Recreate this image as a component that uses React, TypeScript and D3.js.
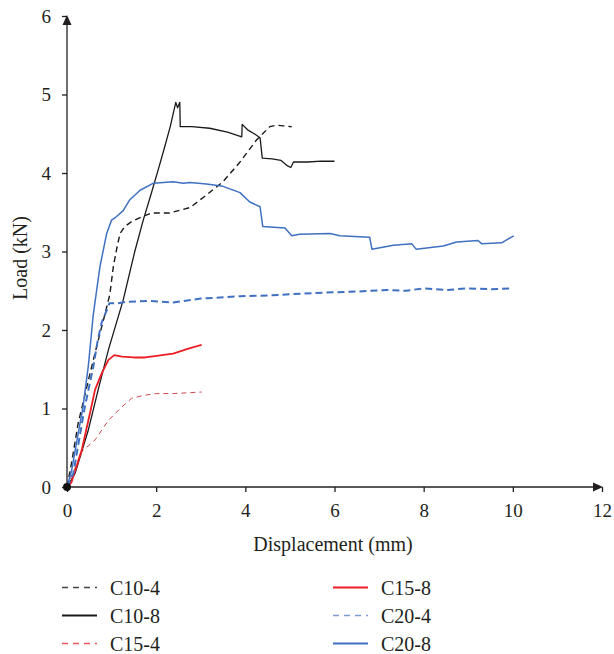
import React, { useEffect, useRef } from "react";
import * as d3 from "d3";

const xTicks = [0, 2, 4, 6, 8, 10, 12];
const yTicks = [0, 1, 2, 3, 4, 5, 6];

// C10-4 (black dashed)
const c10_4x = [0, 0.1, 0.25, 0.48, 0.67, 0.85, 0.96, 1.04, 1.12, 1.19, 1.3, 1.45, 1.71, 1.9, 2.3, 2.76, 3.13, 3.5, 3.88, 4.25, 4.55, 4.7, 4.85, 5.04];
const c10_4y = [0, 0.3, 0.81, 1.36, 1.8, 2.2, 2.45, 2.81, 3.05, 3.23, 3.32, 3.38, 3.45, 3.49, 3.49, 3.56, 3.72, 3.89, 4.14, 4.42, 4.59, 4.61, 4.6, 4.59];

// C10-8 (black solid)
const c10_8x = [0, 0.18, 0.48, 0.7, 0.93, 1.26, 1.52, 1.71, 1.88, 2.05, 2.2, 2.32, 2.44, 2.48, 2.53, 2.54, 2.8, 3.2, 3.6, 3.92, 3.93, 4.05, 4.2, 4.33, 4.38, 4.6, 4.8, 4.95, 5.02, 5.08, 5.4, 5.7, 6.0];
const c10_8y = [0, 0.17, 0.73, 1.24, 1.75, 2.38, 3.0, 3.4, 3.72, 4.05, 4.35, 4.6, 4.9, 4.83, 4.9, 4.59, 4.59, 4.57, 4.52, 4.46, 4.62, 4.55, 4.5, 4.45, 4.19, 4.18, 4.16, 4.09, 4.07, 4.14, 4.14, 4.15, 4.15];

// C15-4 (red dashed)
const c15_4x = [0, 0.15, 0.33, 0.63, 0.93, 1.23, 1.45, 1.75, 2.0, 2.38, 2.7, 3.02];
const c15_4y = [0, 0.2, 0.45, 0.6, 0.85, 1.02, 1.13, 1.17, 1.19, 1.19, 1.2, 1.21];

// C15-8 (red solid)
const c15_8x = [0, 0.1, 0.33, 0.48, 0.63, 0.78, 0.93, 1.06, 1.23, 1.5, 1.75, 2.01, 2.38, 2.76, 3.02];
const c15_8y = [0, 0.06, 0.47, 0.85, 1.24, 1.45, 1.62, 1.68, 1.66, 1.65, 1.65, 1.67, 1.7, 1.77, 1.81];

// C20-4 (blue dashed)
const c20_4x = [0, 0.14, 0.4, 0.59, 0.69, 0.78, 0.89, 0.95, 1.15, 1.34, 1.86, 2.38, 3.0, 3.88, 4.5, 5.5, 6.5, 7.2, 7.6, 8.0, 8.5, 9.0, 9.5, 10.0];
const c20_4y = [0, 0.17, 1.02, 1.53, 1.87, 2.1, 2.25, 2.34, 2.34, 2.36, 2.37, 2.35, 2.4, 2.43, 2.44, 2.47, 2.49, 2.51, 2.5, 2.53, 2.51, 2.53, 2.52, 2.53];

// C20-8 (blue solid)
const c20_8x = [0, 0.1, 0.25, 0.36, 0.48, 0.59, 0.74, 0.89, 1.0, 1.08, 1.26, 1.41, 1.64, 1.94, 2.38, 2.61, 2.76, 3.13, 3.5, 3.88, 4.1, 4.33, 4.39, 4.89, 5.04, 5.22, 5.9, 6.12, 6.79, 6.84, 7.32, 7.73, 7.83, 8.44, 8.74, 9.22, 9.3, 9.75, 10.02];
const c20_8y = [0, 0.2, 0.68, 1.02, 1.55, 2.2, 2.81, 3.23, 3.4, 3.43, 3.52, 3.66, 3.78, 3.87, 3.89, 3.87, 3.88, 3.86, 3.83, 3.75, 3.63, 3.57, 3.32, 3.3, 3.2, 3.22, 3.23, 3.2, 3.18, 3.03, 3.08, 3.1, 3.03, 3.07, 3.12, 3.14, 3.1, 3.11, 3.2];

const seriesNames = ["C10-4", "C10-8", "C15-4", "C15-8", "C20-4", "C20-8"];
const seriesX = [c10_4x, c10_8x, c15_4x, c15_8x, c20_4x, c20_8x];
const seriesY = [c10_4y, c10_8y, c15_4y, c15_8y, c20_4y, c20_8y];

const styles: Record<string, { color: string; width: number; dash: string | null; legColor: string }> = {
  "C10-4": { color: "#1a1a1a", width: 1.4, dash: "6,4", legColor: "#444" },
  "C10-8": { color: "#1a1a1a", width: 1.3, dash: null, legColor: "#1a1a1a" },
  "C15-4": { color: "#cf4a4e", width: 1, dash: "5,4", legColor: "#f0585c" },
  "C15-8": { color: "#ee1c24", width: 1.8, dash: null, legColor: "#ee1c24" },
  "C20-4": { color: "#3f70c1", width: 2, dash: "7,4", legColor: "#7b9bd6" },
  "C20-8": { color: "#3f70c1", width: 1.5, dash: null, legColor: "#3f70c1" },
};

const FONT = "Liberation Serif, Times New Roman, Times, serif";
const INK = "#231f20";

export default function App() {
  const ref = useRef<SVGSVGElement | null>(null);

  useEffect(() => {
    const svg = d3.select(ref.current);
    svg.selectAll("*").remove();
    svg.attr("font-family", FONT);

    const x = d3.scaleLinear().domain([0, 12]).range([67, 602]);
    const y = d3.scaleLinear().domain([0, 6]).range([487, 16]);

    // axes
    const xAxis = svg.append("g")
      .attr("transform", `translate(0,${y(0)})`)
      .call(d3.axisBottom(x).tickValues(xTicks).tickSize(5).tickPadding(12).tickFormat(d3.format("d")));
    const yAxis = svg.append("g")
      .attr("transform", `translate(${x(0)},0)`)
      .call(d3.axisLeft(y).tickValues(yTicks).tickSize(5).tickPadding(11).tickFormat(d3.format("d")));

    [xAxis, yAxis].forEach(g => {
      g.attr("font-family", FONT).attr("font-size", 19);
      g.select(".domain").remove();
      g.selectAll("line").attr("stroke", INK).attr("stroke-width", 1.3);
      g.selectAll("text").attr("fill", INK);
    });

    // axis lines with arrows
    svg.append("line")
      .attr("x1", x(0)).attr("x2", x(12) - 6)
      .attr("y1", y(0)).attr("y2", y(0))
      .attr("stroke", INK).attr("stroke-width", 1.3);
    svg.append("line")
      .attr("x1", x(0)).attr("x2", x(0))
      .attr("y1", y(0)).attr("y2", y(6) + 6)
      .attr("stroke", INK).attr("stroke-width", 1.3);
    svg.append("path")
      .attr("d", `M${x(12) + 1},${y(0)} L${x(12) - 9},${y(0) - 4.5} L${x(12) - 9},${y(0) + 4.5} Z`)
      .attr("fill", INK);
    svg.append("path")
      .attr("d", `M${x(0)},${y(6) - 1} L${x(0) - 4.5},${y(6) + 9} L${x(0) + 4.5},${y(6) + 9} Z`)
      .attr("fill", INK);

    // axis titles
    svg.append("text")
      .attr("x", 333).attr("y", 551)
      .attr("text-anchor", "middle")
      .attr("fill", INK)
      .attr("font-size", 20)
      .text("Displacement (mm)");
    svg.append("text")
      .attr("transform", "translate(27,258) rotate(-90)")
      .attr("text-anchor", "middle")
      .attr("fill", INK)
      .attr("font-size", 20)
      .text("Load (kN)");

    // curves
    const line = d3.line<[number, number]>()
      .x(d => x(d[0]))
      .y(d => y(d[1]))
      .curve(d3.curveLinear);

    seriesNames.forEach((name, i) => {
      const pts = seriesX[i].map((v, j) => [v, seriesY[i][j]] as [number, number]);
      const s = styles[name];
      svg.append("path")
        .datum(pts)
        .attr("d", line)
        .attr("fill", "none")
        .attr("stroke", s.color)
        .attr("stroke-width", s.width)
        .attr("stroke-linejoin", "round")
        .attr("stroke-dasharray", s.dash);
    });

    // origin marker
    svg.append("circle")
      .attr("cx", x(0)).attr("cy", y(0)).attr("r", 4)
      .attr("fill", "#111");

    // legend
    const leg = svg.append("g");
    seriesNames.forEach((name, i) => {
      const col = i < 3 ? 0 : 1;
      const row = i % 3;
      const lx = col === 0 ? 62 : 333;
      const ly = 587.5 + row * 28;
      const s = styles[name];
      leg.append("line")
        .attr("x1", lx).attr("x2", lx + 35)
        .attr("y1", ly).attr("y2", ly)
        .attr("stroke", s.legColor)
        .attr("stroke-width", s.dash ? 1.3 : 1.8)
        .attr("stroke-dasharray", s.dash ? "6,5" : null);
      leg.append("text")
        .attr("x", lx + 48).attr("y", ly + 7)
        .attr("fill", INK)
        .attr("font-size", 20)
        .text(name);
    });
  }, []);

  return (
    <svg
      ref={ref}
      width={614}
      height={654}
      style={{ position: "absolute", left: 0, top: 0, background: "#fff" }}
    />
  );
}
